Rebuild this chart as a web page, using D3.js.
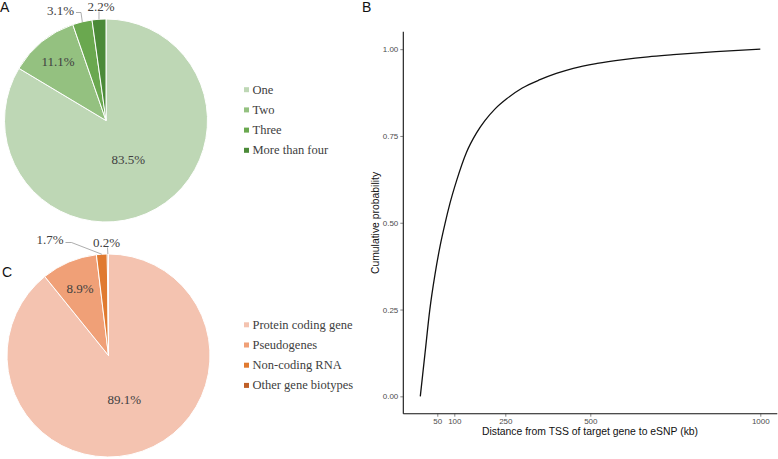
<!DOCTYPE html>
<html><head><meta charset="utf-8">
<script src="https://cdn.jsdelivr.net/npm/d3@7"></script>
<style>
body{margin:0;background:#fff}svg{display:block}
.serif{font-family:"Liberation Serif","Times New Roman",Times,"DejaVu Serif",serif}
.sans{font-family:"Liberation Sans",Arial,Helvetica,sans-serif}
</style>
</head><body>
<svg id="c" width="778" height="459"></svg>
<script>
// ---- data ----
const catsA = ["One","Two","Three","More than four"];
const valsA = [83.5, 11.1, 3.1, 2.2];
const colsA = ["#bed7b5","#94c180","#6aa84f","#4b8a38"];
const catsC = ["Protein coding gene","Pseudogenes","Non-coding RNA","Other gene biotypes"];
const valsC = [89.1, 8.9, 1.7, 0.2];
const colsC = ["#f4c3b0","#f0a077","#e07a30","#bf5f27"];
const distanceKb = [0, 14, 28, 43, 58, 73, 87, 107, 136, 165, 190, 220, 254, 300, 352, 400, 450, 520, 597, 670, 744, 870, 1000];
const cumProb   = [0, 0.125, 0.25, 0.35, 0.432, 0.499, 0.555, 0.622, 0.703, 0.758, 0.794, 0.828, 0.857, 0.888, 0.912, 0.930, 0.945, 0.959, 0.970, 0.978, 0.984, 0.993, 1.0];
const xTicks = [50, 100, 250, 500, 1000];
const yTicks = [0, 0.25, 0.5, 0.75, 1.0];

const svg = d3.select("#c");
const txtCol = "#404040";

function pie(vals, cols, cx, cy, r) {
  const g = svg.append("g").attr("transform", `translate(${cx},${cy})`);
  const arcs = d3.pie().sort(null).value(d => d)(vals);
  const arc = d3.arc().innerRadius(0).outerRadius(r);
  g.selectAll("path").data(arcs).join("path")
    .attr("d", arc).attr("fill", (d,i) => cols[i])
    .attr("stroke", "#fff").attr("stroke-width", 1);
  return {g, arcs, r, vals};
}

const A = pie(valsA, colsA, 106, 120.5, 101.5);
const C = pie(valsC, colsC, 108.5, 355.5, 101.5);

function mid(P, i) { const a = P.arcs[i]; return (a.startAngle + a.endAngle) / 2; }
function inLabel(P, i, rad) {
  const m = mid(P, i);
  P.g.append("text").attr("class", "serif").attr("x", Math.sin(m) * rad).attr("y", -Math.cos(m) * rad)
    .attr("text-anchor", "middle").attr("dominant-baseline", "central")
    .attr("font-size", 13).attr("fill", txtCol)
    .text(P.vals[i].toFixed(1) + "%");
}
inLabel(A, 0, 45); inLabel(A, 1, 76);
inLabel(C, 0, 47); inLabel(C, 1, 73);

function outLabel(P, i, tx, ty, anchor, pts) {
  const m = mid(P, i);
  const path = d3.path();
  path.moveTo(pts[0][0], pts[0][1]);
  for (let k = 1; k < pts.length; k++) path.lineTo(pts[k][0], pts[k][1]);
  path.lineTo(Math.sin(m) * P.r, -Math.cos(m) * P.r);
  P.g.append("path").attr("d", path.toString()).attr("fill", "none")
    .attr("stroke", "#8a8a8a").attr("stroke-width", 0.7);
  P.g.append("text").attr("class", "serif").attr("x", tx).attr("y", ty).attr("text-anchor", anchor)
    .attr("font-size", 13).attr("fill", txtCol)
    .text(P.vals[i].toFixed(1) + "%");
}
outLabel(A, 2, -32, -106, "end", [[-30, -108], [-25, -108]]);
outLabel(A, 3, -5, -109.5, "middle", [[-7, -109]]);
outLabel(C, 2, -45, -112, "end", [[-43, -113], [-37, -113]]);
outLabel(C, 3, -2, -109, "middle", [[-1, -108]]);

function legend(cats, cols, x, y0) {
  const g = svg.append("g");
  cats.forEach((c, i) => {
    const y = y0 + i * 20.2;
    g.append("rect").attr("x", x).attr("y", y - 2.5).attr("width", 5).attr("height", 5).attr("fill", cols[i]);
    g.append("text").attr("class", "serif").attr("x", x + 8.5).attr("y", y).attr("dominant-baseline", "central")
      .attr("font-size", 12.5).attr("fill", txtCol).text(c);
  });
}
legend(catsA, colsA, 244, 89.7);
legend(catsC, colsC, 244, 324.8);

[["A", 0, 12], ["B", 362, 12], ["C", 2, 277]].forEach(([t, x, y]) =>
  svg.append("text").attr("class", "sans").attr("x", x).attr("y", y)
    .attr("font-size", 14).attr("fill", "#111").text(t));

// Panel B
const x = d3.scaleLinear().domain([-50, 1050]).range([403.3, 777.3]);
const y = d3.scaleLinear().domain([-0.05, 1.05]).range([413.7, 31.8]);

const xAxis = svg.append("g").attr("transform", "translate(0,413.7)")
  .call(d3.axisBottom(x).tickValues(xTicks).tickSize(3).tickPadding(2).tickFormat(d3.format("d")));
const yAxis = svg.append("g").attr("transform", "translate(403.3,0)")
  .call(d3.axisLeft(y).tickValues(yTicks).tickSize(3).tickPadding(2).tickFormat(d3.format(".2f")));
[xAxis, yAxis].forEach(ax => {
  ax.attr("font-family", null).attr("font-size", null);
  ax.select(".domain").attr("stroke", "#111").attr("stroke-width", 1.1);
  ax.selectAll(".tick line").attr("stroke", "#333").attr("stroke-width", 0.6);
  ax.selectAll(".tick text").attr("class", "sans").attr("fill", "#4d4d4d").attr("font-size", 8);
});
xAxis.select(".domain").attr("d", `M${x.range()[0]},0H${x.range()[1]}`);
yAxis.select(".domain").attr("d", `M0,${y.range()[0]}V${y.range()[1]}`);

svg.append("path").datum(distanceKb.map((d, i) => [d, cumProb[i]]))
  .attr("d", d3.line().x(d => x(d[0])).y(d => y(d[1])).curve(d3.curveMonotoneX))
  .attr("fill", "none").attr("stroke", "#111").attr("stroke-width", 1.3);

svg.append("text").attr("class", "sans").attr("x", 590).attr("y", 435).attr("text-anchor", "middle")
  .attr("font-size", 10.4).attr("fill", "#111")
  .text("Distance from TSS of target gene to eSNP (kb)");
svg.append("text").attr("class", "sans").attr("transform", "translate(379,223) rotate(-90)").attr("text-anchor", "middle")
  .attr("font-size", 10.4).attr("fill", "#111")
  .text("Cumulative probability");
</script>
</body></html>
